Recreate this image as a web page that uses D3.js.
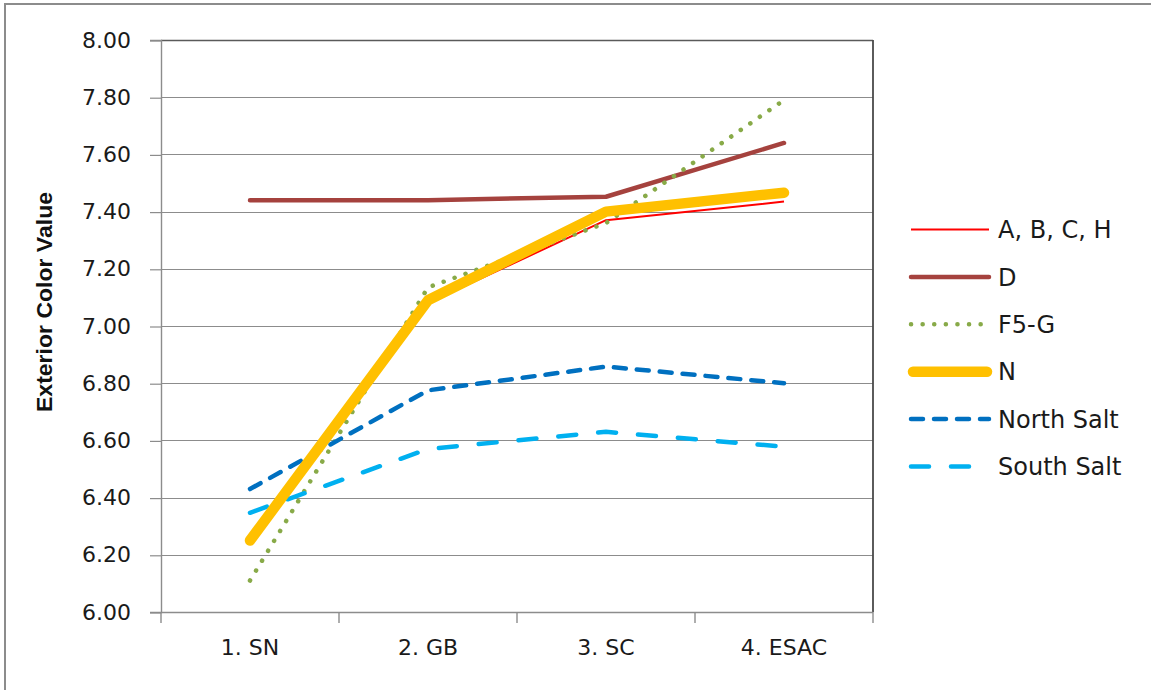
<!DOCTYPE html>
<html>
<head>
<meta charset="utf-8">
<script src="https://cdn.jsdelivr.net/npm/d3@7"></script>
<style>
  html, body { margin: 0; padding: 0; background: #fff; }
  svg { display: block; font-family: "DejaVu Sans", sans-serif; }
</style>
</head>
<body>
<svg id="chart" width="1151" height="690"></svg>
<script>
// Stages along the x axis
const categories = ["1. SN", "2. GB", "3. SC", "4. ESAC"];

// Exterior colour value per stage, one array per series
const abchValues      = [6.25, 7.08, 7.37, 7.435];
const dValues         = [7.44, 7.44, 7.452, 7.64];
const f5gValues       = [6.11, 7.135, 7.36, 7.79];
const nValues         = [6.25, 7.09, 7.40, 7.466];
const northSaltValues = [6.43, 6.775, 6.858, 6.80];
const southSaltValues = [6.347, 6.57, 6.63, 6.578];

const seriesNames = ["A, B, C, H", "D", "F5-G", "N", "North Salt", "South Salt"];

const yTicks = [6.0, 6.2, 6.4, 6.6, 6.8, 7.0, 7.2, 7.4, 7.6, 7.8, 8.0];

// Line styles for each series
const styles = {
  "A, B, C, H": { color: "#FF0000", width: 2,   dash: null,       cap: "butt" },
  "D":          { color: "#A5423E", width: 4.5, dash: null,       cap: "round" },
  "F5-G":       { color: "#88AA48", width: 4.5, dash: "0.1,11.5", cap: "round" },
  "N":          { color: "#FFC000", width: 10.5, dash: null,      cap: "round" },
  "North Salt": { color: "#0070C0", width: 4.5, dash: "12,11",    cap: "round" },
  "South Salt": { color: "#00B0F0", width: 4.5, dash: "18,22",    cap: "round" }
};

const seriesValues = [abchValues, dValues, f5gValues, nValues, northSaltValues, southSaltValues];
// Drawing order: bottom to top
const drawOrder = ["A, B, C, H", "D", "F5-G", "North Salt", "South Salt", "N"];

const svg = d3.select("#chart");

// Outer chart frame (top and left edges)
svg.append("line").attr("x1", 4).attr("x2", 1151).attr("y1", 4).attr("y2", 4)
  .attr("stroke", "#8c8c8c").attr("stroke-width", 2);
svg.append("line").attr("x1", 5).attr("x2", 5).attr("y1", 4).attr("y2", 690)
  .attr("stroke", "#8c8c8c").attr("stroke-width", 2);

const plot = { left: 161, right: 873, top: 40, bottom: 612 };

const x = d3.scaleBand().domain(categories).range([plot.left, plot.right]);
const y = d3.scaleLinear().domain([6, 8]).range([plot.bottom, plot.top]);

// Horizontal gridlines
svg.append("g")
  .selectAll("line")
  .data(yTicks)
  .join("line")
  .attr("x1", plot.left).attr("x2", plot.right)
  .attr("y1", d => Math.round(y(d)) + 0.5).attr("y2", d => Math.round(y(d)) + 0.5)
  .attr("stroke", "#8c8c8c").attr("stroke-width", 1.2);

// Plot area frame
svg.append("line").attr("x1", plot.left).attr("x2", plot.right)
  .attr("y1", plot.top + 0.5).attr("y2", plot.top + 0.5)
  .attr("stroke", "#5a5a5a").attr("stroke-width", 1.4);
svg.append("line").attr("x1", plot.right).attr("x2", plot.right)
  .attr("y1", plot.top).attr("y2", plot.bottom)
  .attr("stroke", "#4a4a4a").attr("stroke-width", 1.8);

// Y axis
const yAxis = svg.append("g")
  .attr("transform", `translate(${plot.left},0)`)
  .call(d3.axisLeft(y).tickValues(yTicks).tickFormat(d3.format(".2f")).tickSize(11).tickPadding(19));
yAxis.select(".domain").attr("stroke", "#8c8c8c").attr("stroke-width", 1.4);
yAxis.selectAll(".tick line").attr("stroke", "#8c8c8c").attr("stroke-width", 1.2)
  .attr("transform", "translate(0,0.5)");
yAxis.selectAll(".tick text")
  .attr("font-family", "DejaVu Sans, sans-serif")
  .attr("font-size", 22).attr("fill", "#1a1a1a");

// X axis with ticks at category boundaries
const xAxisG = svg.append("g");
xAxisG.append("line")
  .attr("x1", plot.left).attr("x2", plot.right)
  .attr("y1", plot.bottom + 0.5).attr("y2", plot.bottom + 0.5)
  .attr("stroke", "#8c8c8c").attr("stroke-width", 1.4);
const boundaries = categories.map(c => x(c)).concat([x(categories[categories.length - 1]) + x.bandwidth()]);
xAxisG.selectAll("line.tick")
  .data(boundaries)
  .join("line")
  .attr("class", "tick")
  .attr("x1", d => d).attr("x2", d => d)
  .attr("y1", plot.bottom).attr("y2", plot.bottom + 11)
  .attr("stroke", "#8c8c8c").attr("stroke-width", 1.4);
xAxisG.selectAll("text")
  .data(categories)
  .join("text")
  .attr("x", d => x(d) + x.bandwidth() / 2)
  .attr("y", 655)
  .attr("text-anchor", "middle")
  .attr("font-size", 22).attr("fill", "#1a1a1a")
  .text(d => d);

// Y axis title
svg.append("text")
  .attr("transform", "translate(52,302) rotate(-90)")
  .attr("text-anchor", "middle")
  .attr("font-family", "Liberation Sans, Arial, sans-serif")
  .attr("font-weight", "bold")
  .attr("font-size", 21.5)
  .attr("textLength", 220)
  .attr("lengthAdjust", "spacingAndGlyphs")
  .attr("fill", "#111")
  .text("Exterior Color Value");

// Series lines
const line = d3.line()
  .x((d, i) => x(categories[i]) + x.bandwidth() / 2)
  .y(d => y(d))
  .curve(d3.curveLinear);

const lines = svg.append("g");
drawOrder.forEach(name => {
  const idx = seriesNames.indexOf(name);
  const s = styles[name];
  lines.append("path")
    .datum(seriesValues[idx])
    .attr("d", line)
    .attr("fill", "none")
    .attr("stroke", s.color)
    .attr("stroke-width", s.width)
    .attr("stroke-linecap", s.cap)
    .attr("stroke-linejoin", "round")
    .attr("stroke-dasharray", s.dash);
});

// Legend
const legend = svg.append("g");
const legendTop = 229.5, legendStep = 47.4;
seriesNames.forEach((name, i) => {
  const s = styles[name];
  const ly = legendTop + i * legendStep;
  legend.append("line")
    .attr("x1", name === "N" ? 913 : 911).attr("x2", name === "N" ? 987 : 989)
    .attr("y1", ly).attr("y2", ly)
    .attr("stroke", s.color)
    .attr("stroke-width", s.width)
    .attr("stroke-linecap", s.cap)
    .attr("stroke-dasharray", s.dash);
  legend.append("text")
    .attr("x", 998).attr("y", ly)
    .attr("dy", "0.36em")
    .attr("font-size", 24).attr("fill", "#1a1a1a")
    .text(name);
});
</script>
</body>
</html>
